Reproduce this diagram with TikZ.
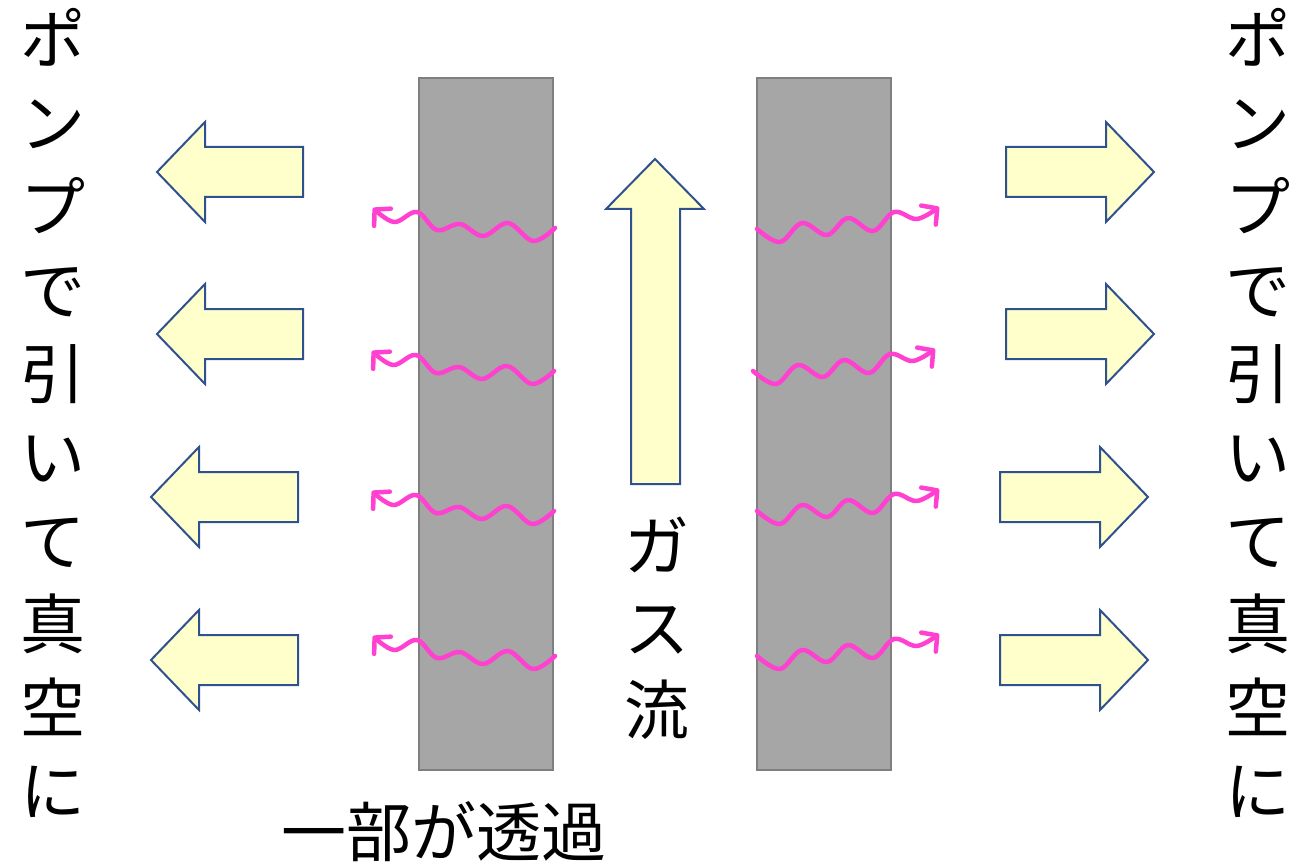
\documentclass[tikz,border=0pt]{standalone}
\usepackage{fontspec}
\newfontfamily\cjk{Noto Sans CJK JP}
\usetikzlibrary{arrows.meta}
\definecolor{barfill}{HTML}{A6A6A6}
\definecolor{barline}{HTML}{7F7F7F}
\definecolor{arrfill}{HTML}{FFFFCC}
\definecolor{arrline}{HTML}{2F528F}
\definecolor{wave}{HTML}{FF40D0}
\begin{document}
\begin{tikzpicture}[x=1pt,y=-1pt,
  bar/.style={fill=barfill,draw=barline,line width=2pt},
  blockarrow/.style={fill=arrfill,draw=arrline,line width=2pt,line join=miter},
  wavy/.style={draw=wave,line width=4.5pt,line cap=round,line join=round,
    -{Straight Barb[length=11pt,width=24pt,line cap=round,line join=round]}},
  lbl/.style={font=\cjk\fontsize{65}{65}\selectfont,inner sep=0pt,anchor=base}]
\useasboundingbox (0,0) rectangle (1294,864);
% bars
\draw[bar] (419,78) rectangle (553,770);
\draw[bar] (757,78) rectangle (891,770);
% left block arrows
\foreach \tx/\ty/\r in {157/172/303,157/334/303,151/497/298,151/660/298}{
  \draw[blockarrow] (\tx,\ty) -- (\tx+48,\ty-50) -- (\tx+48,\ty-25) -- (\r,\ty-25)
    -- (\r,\ty+25) -- (\tx+48,\ty+25) -- (\tx+48,\ty+50) -- cycle;}
% right block arrows
\foreach \l/\t/\ty in {1006/1154/172,1006/1154/334,1000/1148/497,1000/1148/660}{
  \draw[blockarrow] (\t,\ty) -- (\t-48,\ty-50) -- (\t-48,\ty-25) -- (\l,\ty-25)
    -- (\l,\ty+25) -- (\t-48,\ty+25) -- (\t-48,\ty+50) -- cycle;}
% up arrow
\draw[blockarrow] (655,159) -- (704,209) -- (680,209) -- (680,484) -- (631,484)
  -- (631,209) -- (606,209) -- cycle;
% waves (left: outward to the left)
\foreach \n/\sx/\sy in {1/555/228,2/554/371,3/554/511,4/555/656}{
  \coordinate (ls\n) at (\sx,\sy);
  \draw[wavy,shift={(ls\n)}] plot[smooth,tension=0.6] coordinates
    {(0,0) (-22,13) (-47,-5) (-72,8) (-95,-4) (-118,2) (-138,-16) (-161,-6) (-182,-20)};}
% waves (right: outward to the right)
\foreach \n/\sx/\sy in {1/757/229,2/753/371,3/757/511,4/757/656}{
  \coordinate (rs\n) at (\sx,\sy);
  \draw[wavy,shift={(rs\n)}] plot[smooth,tension=0.6] coordinates
    {(0,0) (23,13) (45,-6) (70,6) (91,-11) (116,2) (137,-17) (160,-10) (182,-22)};}
% vertical texts
\foreach \c [count=\i] in {ポ,ン,プ,で,引,い,て,真,空,に}{
  \node[lbl] (L\i) at (53,{40+83.5*(\i-1)+24}) {\c};
  \node[lbl] (R\i) at (1258,{40+83.5*(\i-1)+24}) {\c};}
\foreach \c [count=\i] in {ガ,ス,流}{
  \node[lbl] (G\i) at (657,{546+82*(\i-1)+24}) {\c};}
\node[lbl] (bottom) at (444,856) {一部が透過};
\end{tikzpicture}
\end{document}
